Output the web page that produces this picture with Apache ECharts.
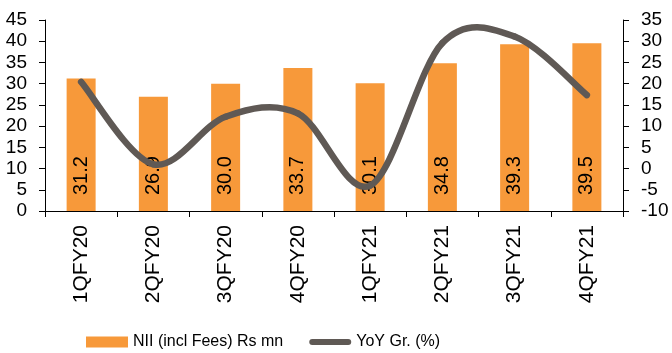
<!DOCTYPE html>
<html>
<head>
<meta charset="utf-8">
<script src="https://cdn.jsdelivr.net/npm/echarts@6/dist/echarts.min.js"></script>
<style>
  html, body { margin: 0; padding: 0; background: #fff; }
  #chart { width: 672px; height: 353px; }
</style>
</head>
<body>
<div id="chart"></div>
<script>
// Quarterly net interest income and its year-on-year growth
const quarters = ['1QFY20', '2QFY20', '3QFY20', '4QFY20', '1QFY21', '2QFY21', '3QFY21', '4QFY21'];
const niiValues = [31.2, 26.9, 30.0, 33.7, 30.1, 34.8, 39.3, 39.5];
const yoyGrowth = [20.4, 1.0, 12.2, 13.0, -4.0, 29.6, 31.1, 17.3];
const leftTicks = { min: 0, max: 45, interval: 5 };
const rightTicks = { min: -10, max: 35, interval: 5 };

const font = 'Liberation Sans, Arial, sans-serif';
const lineColor = '#5F5955';
const barColor = '#F7993A';

// Catmull-Rom style smoothing: each segment i -> i+1 is a cubic bezier
// whose control points follow the neighbouring points' slope.
function renderGrowthSegment(params, api) {
  const i = params.dataIndex;
  if (i >= yoyGrowth.length - 1) return null;
  const pt = j => {
    const k = Math.max(0, Math.min(yoyGrowth.length - 1, j));
    return api.coord([k, yoyGrowth[k]]);
  };
  const p0 = pt(i - 1), p1 = pt(i), p2 = pt(i + 1), p3 = pt(i + 2);
  return {
    type: 'bezierCurve',
    shape: {
      x1: p1[0], y1: p1[1],
      x2: p2[0], y2: p2[1],
      cpx1: p1[0] + (p2[0] - p0[0]) / 6,
      cpy1: p1[1] + (p2[1] - p0[1]) / 6,
      cpx2: p2[0] - (p3[0] - p1[0]) / 6,
      cpy2: p2[1] - (p3[1] - p1[1]) / 6
    },
    style: { fill: null, stroke: lineColor, lineWidth: 6.5, lineCap: 'round' }
  };
}

const chart = echarts.init(document.getElementById('chart'), null, { renderer: 'canvas' });

chart.setOption({
  animation: false,
  backgroundColor: '#ffffff',
  grid: { left: 45, right: 49, top: 20, bottom: 142 },
  legend: {
    top: 329,
    left: 81,
    itemWidth: 42,
    itemHeight: 11,
    itemGap: 26,
    textStyle: { fontFamily: font, fontSize: 16, color: '#000' },
    data: [
      { name: 'NII (incl Fees) Rs mn', icon: 'rect' },
      { name: 'YoY Gr. (%)', icon: 'path://M3,0 L39,0 A3,3 0 0 1 39,6 L3,6 A3,3 0 0 1 3,0 Z' }
    ]
  },
  xAxis: {
    type: 'category',
    data: quarters,
    axisLine: { lineStyle: { color: '#000', width: 1 } },
    axisTick: { show: true, length: 6, lineStyle: { color: '#000' } },
    axisLabel: {
      rotate: 90,
      margin: 14,
      fontFamily: font,
      fontSize: 21,
      color: '#000'
    }
  },
  yAxis: [
    {
      type: 'value',
      min: leftTicks.min,
      max: leftTicks.max,
      interval: leftTicks.interval,
      splitLine: { show: false },
      axisLine: { show: true, lineStyle: { color: '#000' } },
      axisTick: { show: true, length: 6, lineStyle: { color: '#000' } },
      axisLabel: { margin: 18, fontFamily: font, fontSize: 19, color: '#000' }
    },
    {
      type: 'value',
      min: rightTicks.min,
      max: rightTicks.max,
      interval: rightTicks.interval,
      position: 'right',
      splitLine: { show: false },
      axisLine: { show: true, lineStyle: { color: '#000' } },
      axisTick: { show: true, length: 6, lineStyle: { color: '#000' } },
      axisLabel: { margin: 18, fontFamily: font, fontSize: 19, color: '#000' }
    }
  ],
  series: [
    {
      name: 'NII (incl Fees) Rs mn',
      type: 'bar',
      yAxisIndex: 0,
      data: niiValues,
      barWidth: 29,
      itemStyle: { color: barColor },
      label: {
        show: true,
        position: 'insideBottom',
        distance: 16,
        rotate: 90,
        align: 'left',
        verticalAlign: 'middle',
        fontFamily: font,
        fontSize: 20,
        color: '#000',
        formatter: p => p.value.toFixed(1)
      },
      z: 2
    },
    {
      name: 'YoY Gr. (%)',
      type: 'custom',
      yAxisIndex: 1,
      data: yoyGrowth.map((v, i) => [i, v]),
      encode: { x: 0, y: 1 },
      renderItem: renderGrowthSegment,
      itemStyle: { color: lineColor },
      clip: false,
      z: 5
    }
  ]
});
</script>
</body>
</html>
